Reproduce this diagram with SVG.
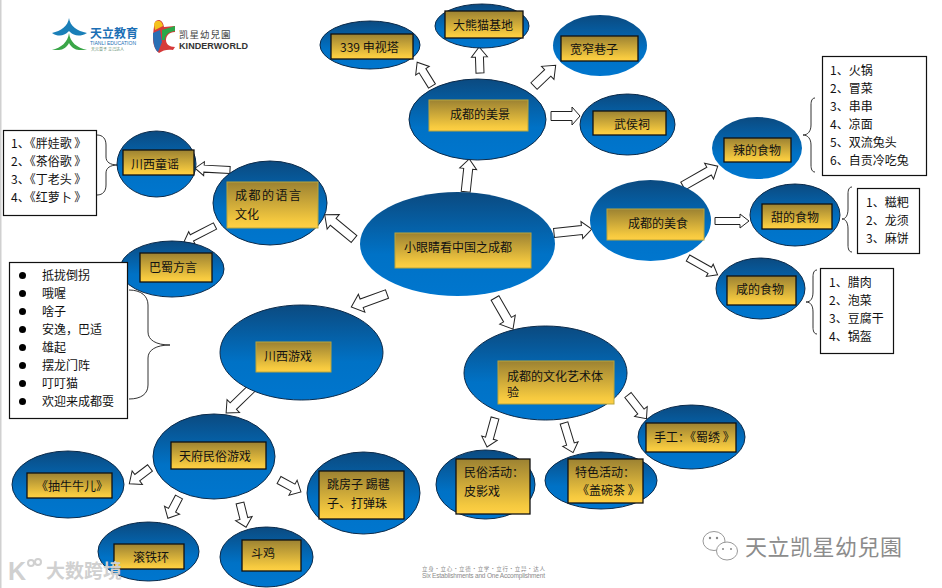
<svg xmlns="http://www.w3.org/2000/svg" width="942" height="588" viewBox="0 0 942 588">
<style>
text{font-family:"Noto Sans CJK SC","Liberation Sans",sans-serif;font-size:12px;fill:#111}
.e{fill:url(#blue);stroke:#0b2a4a;stroke-width:1}
.en{fill:url(#blue);stroke:none}
.b{fill:url(#gold);stroke:#111;stroke-width:1.3}
.bn{fill:url(#gold);stroke:#b9a53c;stroke-width:1}
.a{fill:#fff;stroke:#222;stroke-width:1}
.l{fill:#fff;stroke:#111;stroke-width:1.2}
.br{fill:none;stroke:#333;stroke-width:1}
.wm{fill:#8a8a8a}
</style>
<defs>
<linearGradient id="blue" x1="0" y1="0" x2="0" y2="1"><stop offset="0" stop-color="#0b4a80"/><stop offset="0.6" stop-color="#0072c6"/><stop offset="1" stop-color="#0076ce"/></linearGradient>
<linearGradient id="gold" x1="0" y1="0" x2="0" y2="1"><stop offset="0" stop-color="#9c8232"/><stop offset="0.85" stop-color="#f5c93f"/><stop offset="1" stop-color="#ffd045"/></linearGradient>
</defs>
<rect width="942" height="588" fill="#fff"/>
<rect width="1.5" height="588" fill="#d0d0d0"/>

<g id="logos">
<path d="M69 18C70 26 77 31 87 33C80 37 74 36 70 32L69 31L68 32C64 36 58 37 52 33C61 31 68 26 69 18Z" fill="#1a7fb8"/>
<path d="M69 33C70 42 77 48 87 50L79 50C75 50 71 47 69 43C67 47 63 50 59 50L52 50C61 48 68 42 69 33Z" fill="#3aa648"/>
<text x="90" y="38" style="font-size:12px;font-weight:700;fill:#1b6fb5">天立教育</text>
<text x="90" y="45" style="font-size:5px;font-family:'Liberation Sans',sans-serif;fill:#1b6fb5" textLength="46">TIANLI EDUCATION</text>
<text x="91" y="51" style="font-size:4px;fill:#5a8a6a">天元普予  立己达人</text>
<path d="M155 22C158 18 163 20 164 27L175 26L175 32C169 32 166 36 166 40C166 44 169 47 175 47L173 50C168 49 163 50 159 53C155 50 153 45 153 38C153 32 154 26 155 22Z" fill="#d63a3a"/>
<path d="M154 24C156 19 162 20 163 26L155 30Z" fill="#f4c21f"/>
<path d="M153 33L160 30L162 42L158 52C154 49 153 42 153 33Z" fill="#2a6fb5"/>
<path d="M162 30L175 26L175 31C167 32 165 36 165 40L162 40Z" fill="#2aa84a"/>
<text x="179" y="38" style="font-size:9.5px;letter-spacing:1px;fill:#444">凯星幼兒園</text>
<text x="179" y="49" style="font-size:9px;font-weight:700;font-family:'Liberation Sans',sans-serif;fill:#333" textLength="69">KINDERWORLD</text>
</g>

<g id="connectors">
<path class="a" transform="translate(465.7 191.7) rotate(-83.8)" d="M0-4.5H23V-8.5L33 0L23 8.5V4.5H0Z"/>
<path class="a" transform="translate(354 239) rotate(-140.4)" d="M0-4.500H27V-9.500L38 0L27 9.500V4.500H0Z"/>
<path class="a" transform="translate(554 233) rotate(-6)" d="M0-4.500H28V-8.500L38 0L28 8.500V4.500H0Z"/>
<path class="a" transform="translate(387 294) rotate(160)" d="M0-4.500H27V-9.500L38 0L27 9.500V4.500H0Z"/>
<path class="a" transform="translate(495 298) rotate(60)" d="M0-4.500H25V-9L36 0L25 9V4.500H0Z"/>
<path class="a" transform="translate(432 86) rotate(-122)" d="M0-4H18V-8L28 0L18 8V4H0Z"/>
<path class="a" transform="translate(480 73) rotate(-92)" d="M0-4H16V-8L26 0L16 8V4H0Z"/>
<path class="a" transform="translate(534 86) rotate(-43.7)" d="M0-4.500H19V-9L30 0L19 9V4.500H0Z"/>
<path class="a" transform="translate(551 116)" d="M0-4.500H21V-9L29 0L21 9V4.500H0Z"/>
<path class="a" transform="translate(683 186) rotate(-29.7)" d="M0-4.500H30V-9L40 0L30 9V4.500H0Z"/>
<path class="a" transform="translate(715 221)" d="M0-3.500H25V-7L34 0L25 7V3.500H0Z"/>
<path class="a" transform="translate(688 258) rotate(29.5)" d="M0-3.500H25V-7L34 0L25 7V3.500H0Z"/>
<path class="a" transform="translate(230 170) rotate(-177)" d="M0-3.500H26V-7L35 0L26 7V3.500H0Z"/>
<path class="a" transform="translate(215 226) rotate(152.7)" d="M0-3.500H26V-7L35 0L26 7V3.500H0Z"/>
<path class="a" transform="translate(252 388) rotate(136)" d="M0-4.500H26V-9L36 0L26 9V4.500H0Z"/>
<path class="a" transform="translate(150 468) rotate(142.7)" d="M0-4H16V-8.500L26 0L16 8.500V4H0Z"/>
<path class="a" transform="translate(179 497) rotate(117.6)" d="M0-4H15V-8.500L24 0L15 8.500V4H0Z"/>
<path class="a" transform="translate(240 503) rotate(76)" d="M0-4H16V-8.500L25 0L16 8.500V4H0Z"/>
<path class="a" transform="translate(279 480) rotate(28.6)" d="M0-4H16V-8.500L25 0L16 8.500V4H0Z"/>
<path class="a" transform="translate(495 418) rotate(105.4)" d="M0-4H21V-8L30 0L21 8V4H0Z"/>
<path class="a" transform="translate(564 423) rotate(73)" d="M0-4H22V-8L31 0L22 8V4H0Z"/>
<path class="a" transform="translate(628 395) rotate(52)" d="M0-4H21V-8L30 0L21 8V4H0Z"/>
</g>

<g id="braces">
<path class="br" d="M97 135C103 135 106 139 106 145V157C106 162 110 165 118 165C110 165 106 168 106 173V185C106 191 103 195 97 195"/>
<path class="br" d="M129 290C141 290 148 296 148 305V332C148 340 156 345 170 345C156 345 148 350 148 358V385C148 394 141 399 129 399"/>
<path class="br" d="M815 98C812 98 811 101 811 105V125C811 131 808 135 803 135C808 135 811 139 811 145V165C811 169 812 172 815 172"/>
<path class="br" d="M852 187C849 187 848 190 848 194V209C848 215 846 219 842 219C846 219 848 223 848 229V245C848 249 849 252 852 252"/>
<path class="br" d="M817 270C814 270 813 273 813 277V292C813 298 811 302 806 302C811 302 813 306 813 312V327C813 331 814 334 817 334"/>
</g>

<g id="n-center"><ellipse class="en" cx="457.500" cy="244" rx="97.500" ry="52"/><rect class="bn" x="395" y="233" width="136" height="35"/><text x="404" y="252">小眼睛看中国之成都</text></g>
<g id="n-scenery"><ellipse class="e" cx="477.500" cy="119.500" rx="68.500" ry="40.500"/><rect class="bn" x="429" y="100" width="99" height="31"/><text x="450" y="119">成都的美景</text></g>
<g id="n-339"><ellipse class="e" cx="370" cy="45" rx="50" ry="24"/><rect class="b" x="331" y="34" width="82" height="25"/><text x="340" y="52">339 申视塔</text></g>
<g id="n-panda"><ellipse class="e" cx="482" cy="26" rx="47" ry="22"/><rect class="b" x="445" y="11" width="78" height="27"/><text x="453" y="30">大熊猫基地</text></g>
<g id="n-kuanzhai"><ellipse class="en" cx="600" cy="45.500" rx="47" ry="30.500"/><rect class="b" x="561" y="36" width="77" height="25"/><text x="570" y="54">宽窄巷子</text></g>
<g id="n-wuhou"><ellipse class="e" cx="627.500" cy="124.500" rx="47.500" ry="30.500"/><rect class="b" x="593" y="111" width="73" height="24"/><text x="614" y="129">武侯祠</text></g>
<g id="n-food"><ellipse class="en" cx="650.500" cy="220.500" rx="60.500" ry="40.500"/><rect class="bn" x="607" y="209" width="97" height="31"/><text x="628" y="228">成都的美食</text></g>
<g id="n-spicy"><ellipse class="en" cx="757" cy="148" rx="45" ry="31"/><rect class="b" x="724" y="138" width="67" height="24"/><text x="733" y="155">辣的食物</text></g>
<g id="n-sweet"><ellipse class="e" cx="795" cy="215" rx="45" ry="31"/><rect class="b" x="762" y="204" width="70" height="25"/><text x="771" y="222">甜的食物</text></g>
<g id="n-salty"><ellipse class="e" cx="760.500" cy="288.500" rx="44.500" ry="30.500"/><rect class="b" x="727" y="276" width="69" height="29"/><text x="736" y="294">咸的食物</text></g>
<g id="n-nursery"><ellipse class="e" cx="156.500" cy="164" rx="39.500" ry="33"/><rect class="b" x="123" y="150" width="71" height="25"/><text x="131" y="169">川西童谣</text></g>
<g id="n-language"><ellipse class="e" cx="270" cy="203" rx="57" ry="42"/><rect class="bn" x="227" y="182" width="91" height="46"/><text x="235" y="200" style="letter-spacing:1.500px">成都的语言</text><text x="235" y="219">文化</text></g>
<g id="n-dialect"><ellipse class="e" cx="172" cy="269" rx="52" ry="28"/><rect class="b" x="140" y="253" width="72" height="29"/><text x="149" y="272">巴蜀方言</text></g>
<g id="n-games"><ellipse class="e" cx="301.500" cy="352.500" rx="81.500" ry="47.500"/><rect class="bn" x="256" y="342" width="75" height="30"/><text x="264" y="361">川西游戏</text></g>
<g id="n-folkgames"><ellipse class="e" cx="214" cy="456.500" rx="61" ry="42.500"/><rect class="b" x="171" y="442" width="95" height="27"/><text x="179" y="461">天府民俗游戏</text></g>
<g id="n-ox"><ellipse class="e" cx="68" cy="484.500" rx="56" ry="33.500"/><rect class="b" x="27" y="473" width="85" height="25"/><text x="36" y="491">《抽牛牛儿》</text></g>
<g id="n-hoop"><ellipse class="e" cx="148.500" cy="551.500" rx="50.500" ry="29.500"/><rect class="b" x="114" y="544" width="70" height="25"/><text x="133" y="562">滚铁环</text></g>
<g id="n-rooster"><ellipse class="e" cx="266.500" cy="557" rx="46.500" ry="30"/><rect class="b" x="242" y="540" width="59" height="31"/><text x="251" y="558">斗鸡</text></g>
<g id="n-hopscotch"><ellipse class="e" cx="363.500" cy="493" rx="56.500" ry="41"/><rect class="b" x="319" y="471" width="85" height="48"/><text x="327" y="489">跳房子 踢毽</text><text x="327" y="508">子、打弹珠</text></g>
<g id="n-culture"><ellipse class="e" cx="545.500" cy="373" rx="81.500" ry="47"/><rect class="bn" x="498" y="361" width="116" height="43"/><text x="507" y="381">成都的文化艺术体</text><text x="507" y="397">验</text></g>
<g id="n-shadow"><ellipse class="e" cx="485.500" cy="484.500" rx="49.500" ry="34.500"/><rect class="b" x="456" y="459" width="74" height="55"/><text x="464" y="477">民俗活动：</text><text x="464" y="496">皮影戏</text></g>
<g id="n-tea"><ellipse class="e" cx="601" cy="480.500" rx="56" ry="28.500"/><rect class="b" x="568" y="459" width="75" height="44"/><text x="575" y="477">特色活动：</text><text x="577" y="495">《盖碗茶 》</text></g>
<g id="n-craft"><ellipse class="e" cx="691.500" cy="437" rx="53.500" ry="32"/><rect class="b" x="646" y="423" width="90" height="29"/><text x="654" y="442">手工：《蜀绣 》</text></g>

<g id="list-songs"><rect class="l" x="3.500" y="130.500" width="93" height="85"/><text x="11" y="148">1、《胖娃歌 》</text><text x="11" y="166">2、《茶俗歌 》</text><text x="11" y="184">3、《丁老头 》</text><text x="11" y="202">4、《红萝卜 》</text></g>
<g id="list-dialect"><rect class="l" x="9.500" y="262.500" width="118" height="156"/>
<g fill="#000"><circle cx="22.500" cy="275.500" r="3.500"/><circle cx="22.500" cy="293.500" r="3.500"/><circle cx="22.500" cy="311.500" r="3.500"/><circle cx="22.500" cy="329.500" r="3.500"/><circle cx="22.500" cy="347.500" r="3.500"/><circle cx="22.500" cy="365.500" r="3.500"/><circle cx="22.500" cy="383.500" r="3.500"/><circle cx="22.500" cy="401.500" r="3.500"/></g>
<text x="42" y="280">抵拢倒拐</text><text x="42" y="298">哦喔</text><text x="42" y="316">啥子</text><text x="42" y="334">安逸，巴适</text><text x="42" y="352">雄起</text><text x="42" y="370">摆龙门阵</text><text x="42" y="388">叮叮猫</text><text x="42" y="406">欢迎来成都耍</text></g>
<g id="list-spicy"><rect class="l" x="822.500" y="56.500" width="104" height="119"/><text x="830" y="75">1、火锅</text><text x="830" y="93">2、冒菜</text><text x="830" y="111">3、串串</text><text x="830" y="129">4、凉面</text><text x="830" y="147">5、双流兔头</text><text x="830" y="165">6、自贡冷吃兔</text></g>
<g id="list-sweet"><rect class="l" x="857.500" y="188.500" width="62" height="65"/><text x="866" y="207">1、糍粑</text><text x="866" y="225">2、龙须</text><text x="866" y="243">3、麻饼</text></g>
<g id="list-salty"><rect class="l" x="820.500" y="268.500" width="73" height="85"/><text x="829" y="287">1、腊肉</text><text x="829" y="305">2、泡菜</text><text x="829" y="323">3、豆腐干</text><text x="829" y="341">4、锅盔</text></g>

<g id="watermarks">
<text x="422" y="571" style="font-size:5.500px" class="wm" textLength="123">立身・立心・立德・立学・立行・立异・达人</text>
<text x="422" y="578" style="font-size:6.500px;font-family:'Liberation Sans',sans-serif" class="wm" textLength="123">Six Establishments and One Accomplishment</text>
<text x="745" y="555" style="font-size:22px;fill:#8c8c8c;letter-spacing:.5px">天立凯星幼兒園</text>
<g fill="#fff" stroke="#999" stroke-width="1"><ellipse cx="714" cy="541" rx="11" ry="9.500"/><ellipse cx="727" cy="551" rx="10.500" ry="9"/></g>
<g fill="#888"><circle cx="710" cy="538" r="1.200"/><circle cx="717" cy="538" r="1.200"/><circle cx="723" cy="549" r="1"/><circle cx="731" cy="549" r="1"/></g>
<text x="46" y="578" style="font-size:19px;fill:#d0d0d0;font-weight:700">大数跨境</text>
<text x="8" y="580" style="font-size:25px;fill:#d0d0d0;font-family:'Liberation Sans',sans-serif;font-weight:700">K</text>
<g fill="none" stroke="#d0d0d0" stroke-width="2"><circle cx="31" cy="563" r="3"/><circle cx="38" cy="562" r="3"/></g>
</g>
</svg>
